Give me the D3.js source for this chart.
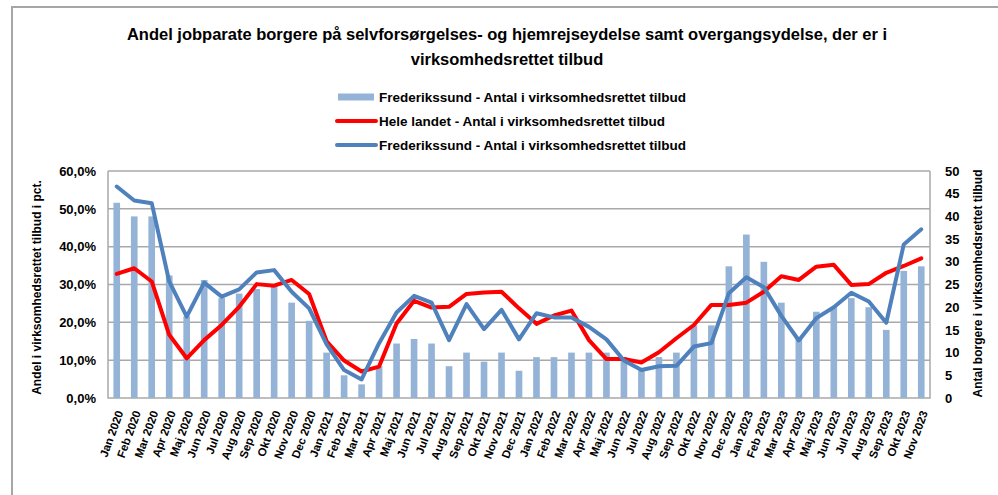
<!DOCTYPE html>
<html>
<head>
<meta charset="utf-8">
<script src="https://cdn.jsdelivr.net/npm/d3@7"></script>
<style>
    body { margin: 0; background: #fff; }
    text { font-family: "Liberation Sans", Arial, sans-serif; font-weight: bold; fill: #000; }
</style>
</head>
<body>
<svg id="chart" width="998" height="495"></svg>
<script>
// months on the x axis
const months = [
    "Jan 2020", "Feb 2020", "Mar 2020", "Apr 2020", "Maj 2020", "Jun 2020", "Jul 2020", "Aug 2020", "Sep 2020", "Okt 2020", "Nov 2020", "Dec 2020",
    "Jan 2021", "Feb 2021", "Mar 2021", "Apr 2021", "Maj 2021", "Jun 2021", "Jul 2021", "Aug 2021", "Sep 2021", "Okt 2021", "Nov 2021", "Dec 2021",
    "Jan 2022", "Feb 2022", "Mar 2022", "Apr 2022", "Maj 2022", "Jun 2022", "Jul 2022", "Aug 2022", "Sep 2022", "Okt 2022", "Nov 2022", "Dec 2022",
    "Jan 2023", "Feb 2023", "Mar 2023", "Apr 2023", "Maj 2023", "Jun 2023", "Jul 2023", "Aug 2023", "Sep 2023", "Okt 2023", "Nov 2023"
];

// Frederikssund - antal (bars, right axis)
const frsAntal = [
    43, 40, 40, 27, 18, 26, 22, 23, 24, 25, 21, 17,
    10, 5, 3, 7, 12, 13, 12, 7, 10, 8, 10, 6,
    9, 9, 10, 10, 10, 9, 6, 9, 10, 16, 16, 29,
    36, 30, 21, 13, 19, 20, 22, 20, 15, 28, 29
];

// Hele landet - andel i pct (red line, left axis)
const heleLandet = [
    32.8, 34.3, 30.8, 16.7, 10.5, 15.3, 19.3, 24.1, 30.1, 29.7, 31.2, 27.5,
    15.0, 9.9, 7.0, 8.3, 19.7, 25.7, 23.9, 24.1, 27.5, 27.9, 28.1, 23.7,
    19.6, 21.8, 23.1, 15.3, 10.3, 10.3, 9.4, 12.1, 15.8, 19.3, 24.6, 24.6,
    25.2, 28.1, 32.2, 31.2, 34.7, 35.2, 29.9, 30.1, 33.1, 34.9, 36.9
];

// Frederikssund - andel i pct (blue line, left axis)
const frsAndel = [
    55.9, 52.2, 51.5, 30.8, 21.5, 30.5, 26.8, 28.7, 33.2, 33.8, 28.1, 23.7,
    14.2, 7.4, 4.9, 14.5, 22.6, 27.0, 25.2, 15.3, 24.8, 18.2, 23.3, 15.5,
    22.4, 21.3, 21.3, 18.8, 15.5, 9.9, 7.4, 8.4, 8.5, 13.6, 14.5, 27.7,
    31.9, 29.3, 21.7, 15.2, 21.1, 24.0, 27.8, 25.5, 19.9, 40.6, 44.6
];

const leftTicks = [0, 0.1, 0.2, 0.3, 0.4, 0.5, 0.6];
const rightTicks = [0, 5, 10, 15, 20, 25, 30, 35, 40, 45, 50];

const titleLines = [
    "Andel jobparate  borgere på selvforsørgelses- og hjemrejseydelse samt overgangsydelse, der er i",
    "virksomhedsrettet tilbud"
];
const legendLabels = [
    "Frederikssund - Antal i virksomhedsrettet tilbud",
    "Hele landet - Antal i virksomhedsrettet tilbud",
    "Frederikssund - Antal i virksomhedsrettet tilbud"
];

const svg = d3.select("#chart");
const plot = { left: 108, right: 930, top: 171, bottom: 398 };

const gridColor = "#a9a9a9";
const barColor = "#95b3d7";
const redColor = "#ff0000";
const blueColor = "#4f81bd";

const daLocale = d3.formatLocale({ decimal: ",", thousands: ".", grouping: [3], currency: ["", " kr"] });
const pctFormat = daLocale.format(".1%");

// outer chart frame (only top and left edges are inside the picture)
svg.append("path")
    .attr("d", "M12,495 L12,7 L998,7")
    .attr("fill", "none")
    .attr("stroke", "#a6a6a6")
    .attr("stroke-width", 2);

// scales
const x = d3.scaleBand()
    .domain(months)
    .range([plot.left, plot.right])
    .paddingInner(0.62)
    .paddingOuter(0.31);

const yLeft = d3.scaleLinear().domain([0, 0.6]).range([plot.bottom, plot.top]);
const yRight = d3.scaleLinear().domain([0, 50]).range([plot.bottom, plot.top]);

// gridlines
svg.append("g")
    .selectAll("line")
    .data(leftTicks.slice(1))
    .join("line")
    .attr("x1", plot.left)
    .attr("x2", plot.right)
    .attr("y1", d => yLeft(d))
    .attr("y2", d => yLeft(d))
    .attr("stroke", gridColor)
    .attr("stroke-width", 1.5);

// plot border
svg.append("path")
    .attr("d", `M${plot.left},${plot.top} L${plot.left},${plot.bottom} L${plot.right},${plot.bottom} L${plot.right},${plot.top}`)
    .attr("fill", "none")
    .attr("stroke", gridColor)
    .attr("stroke-width", 1.5);

// bars
svg.append("g")
    .selectAll("rect")
    .data(frsAntal)
    .join("rect")
    .attr("x", (d, i) => x(months[i]))
    .attr("width", x.bandwidth())
    .attr("y", d => yRight(d))
    .attr("height", d => plot.bottom - yRight(d))
    .attr("fill", barColor);

// lines
function drawLine(values, color) {
    let line = d3.line()
        .x((d, i) => x(months[i]) + x.bandwidth() / 2)
        .y(d => yLeft(d / 100));
    svg.append("path")
        .datum(values)
        .attr("d", line)
        .attr("fill", "none")
        .attr("stroke", color)
        .attr("stroke-width", 4)
        .attr("stroke-linejoin", "round")
        .attr("stroke-linecap", "round");
}
drawLine(heleLandet, redColor);
drawLine(frsAndel, blueColor);

// left axis
const leftAxis = svg.append("g")
    .attr("transform", `translate(${plot.left},0)`)
    .call(d3.axisLeft(yLeft).tickValues(leftTicks).tickFormat(pctFormat).tickSize(0).tickPadding(12));
leftAxis.select(".domain").remove();
leftAxis.selectAll("text").style("font-size", "13px").style("font-family", "'Liberation Sans', Arial, sans-serif");

// right axis
const rightAxis = svg.append("g")
    .attr("transform", `translate(${plot.right},0)`)
    .call(d3.axisRight(yRight).tickValues(rightTicks).tickSize(0).tickPadding(15));
rightAxis.select(".domain").remove();
rightAxis.selectAll("text").style("font-size", "13px").style("font-family", "'Liberation Sans', Arial, sans-serif");

// bottom axis with rotated month labels
const bottomAxis = svg.append("g")
    .attr("transform", `translate(0,${plot.bottom})`)
    .call(d3.axisBottom(x).tickSize(0));
bottomAxis.select(".domain").remove();
bottomAxis.selectAll("text")
    .attr("x", 0)
    .attr("y", 0)
    .attr("dy", "0.35em")
    .attr("text-anchor", "end")
    .attr("transform", "translate(3,13) rotate(-70)")
    .style("font-size", "11.5px")
    .style("font-family", "'Liberation Sans', Arial, sans-serif");

// axis titles
svg.append("text")
    .attr("transform", `translate(41,${(plot.top + plot.bottom) / 2 + 3}) rotate(-90)`)
    .attr("text-anchor", "middle")
    .style("font-size", "12px")
    .text("Andel i virksomhedsrettet tilbud i pct.");

svg.append("text")
    .attr("transform", `translate(982,${(plot.top + plot.bottom) / 2 - 1}) rotate(-90)`)
    .attr("text-anchor", "middle")
    .style("font-size", "12px")
    .text("Antal borgere i virksomhedsrettet tilbud");

// title
svg.append("g")
    .selectAll("text")
    .data(titleLines)
    .join("text")
    .attr("x", 507)
    .attr("y", (d, i) => 40 + i * 25)
    .attr("text-anchor", "middle")
    .style("font-size", "16.5px")
    .text(d => d);

// legend
const legend = svg.append("g");
const legendY = [97, 121, 145];
legend.append("rect")
    .attr("x", 338).attr("y", legendY[0] - 3.5)
    .attr("width", 36).attr("height", 7)
    .attr("fill", barColor);
[redColor, blueColor].forEach((c, i) => {
    legend.append("line")
        .attr("x1", 337).attr("x2", 376)
        .attr("y1", legendY[i + 1]).attr("y2", legendY[i + 1])
        .attr("stroke", c)
        .attr("stroke-width", 4)
        .attr("stroke-linecap", "round");
});
legend.selectAll("text.lbl")
    .data(legendLabels)
    .join("text")
    .attr("class", "lbl")
    .attr("x", 379)
    .attr("y", (d, i) => legendY[i])
    .attr("dy", "0.35em")
    .style("font-size", "13.5px")
    .text(d => d);
</script>
</body>
</html>
